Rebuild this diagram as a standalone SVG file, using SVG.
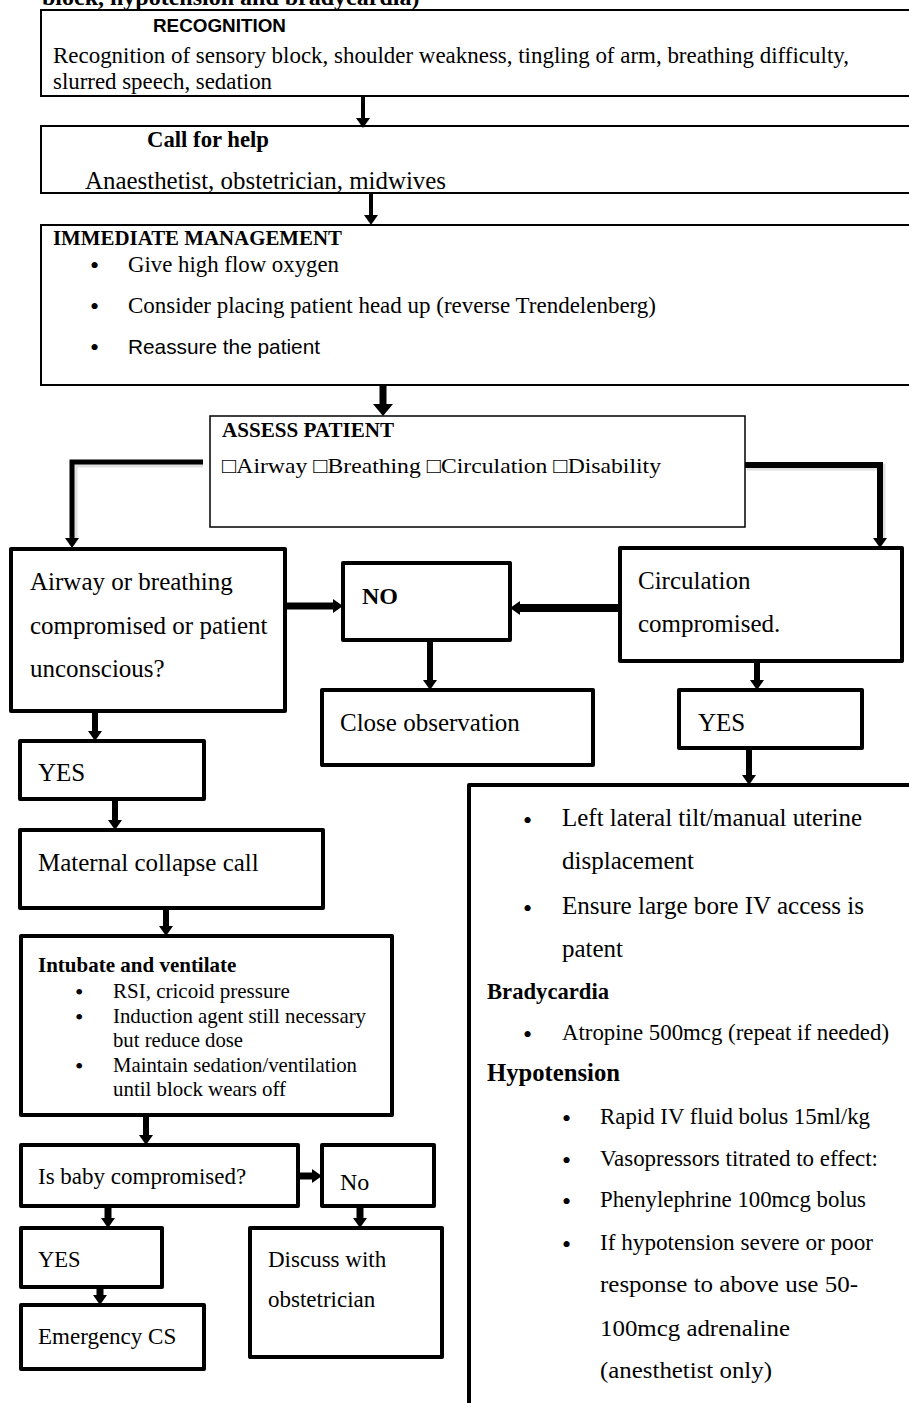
<svg xmlns="http://www.w3.org/2000/svg" width="909" height="1403" viewBox="0 0 909 1403">
<style>
.bg{fill:#fff}
.thin{fill:#fff;stroke:#000;stroke-width:2}
.thick{fill:#fff;stroke:#000;stroke-width:4;stroke-linejoin:round}
.t{font-family:"Liberation Serif","Times New Roman",serif;fill:#000}
.s{font-family:"Liberation Sans",Arial,sans-serif;fill:#000}
.b{font-weight:bold}
.c{fill:none;stroke:#000;stroke-linejoin:miter}
.sh{fill:none;stroke:#000;stroke-opacity:0.12;stroke-width:7}
</style>
<defs>
<marker id="ah" markerUnits="userSpaceOnUse" markerWidth="10" markerHeight="14" viewBox="0 0 10 14" refX="0" refY="7" orient="auto"><path d="M0,0 L10,7 L0,14 z" fill="#000"/></marker>
<marker id="ahL" markerUnits="userSpaceOnUse" markerWidth="12" markerHeight="20" viewBox="0 0 12 20" refX="0" refY="10" orient="auto"><path d="M0,0 L12,10 L0,20 z" fill="#000"/></marker>
</defs>
<rect class="bg" x="0" y="0" width="909" height="1403"/>
<text class="t b" x="42" y="5" font-size="24">block, hypotension and bradycardia)</text>

<g id="recognition">
<rect class="thin" x="41" y="10" width="900" height="86"/>
<text class="s b" x="153" y="32" font-size="18" textLength="133" lengthAdjust="spacingAndGlyphs">RECOGNITION</text>
<text class="t" x="53" y="63" font-size="23" textLength="796" lengthAdjust="spacingAndGlyphs">Recognition of sensory block, shoulder weakness, tingling of arm, breathing difficulty,</text>
<text class="t" x="53" y="89" font-size="23" textLength="219" lengthAdjust="spacingAndGlyphs">slurred speech, sedation</text>
</g>

<g id="call-for-help">
<rect class="thin" x="41" y="126" width="900" height="67"/>
<text class="t b" x="147" y="147" font-size="22.5" textLength="122" lengthAdjust="spacingAndGlyphs">Call for help</text>
<text class="t" x="85" y="189" font-size="25" textLength="361" lengthAdjust="spacingAndGlyphs">Anaesthetist, obstetrician, midwives</text>
</g>

<g id="immediate-management">
<rect class="thin" x="41" y="225" width="900" height="160"/>
<text class="t b" x="53" y="245" font-size="20.5" textLength="289" lengthAdjust="spacingAndGlyphs">IMMEDIATE MANAGEMENT</text>
<text class="t" x="90" y="274" font-size="26">•</text>
<text class="t" x="128" y="272" font-size="23" textLength="211" lengthAdjust="spacingAndGlyphs">Give high flow oxygen</text>
<text class="t" x="90" y="315" font-size="26">•</text>
<text class="t" x="128" y="313" font-size="23" textLength="528" lengthAdjust="spacingAndGlyphs">Consider placing patient head up (reverse Trendelenberg)</text>
<text class="t" x="90" y="356" font-size="26">•</text>
<text class="s" x="128" y="354" font-size="21" textLength="192" lengthAdjust="spacingAndGlyphs">Reassure the patient</text>
</g>

<g id="assess-patient">
<rect x="210" y="416" width="535" height="111" fill="#fff" stroke="#000" stroke-width="1.5"/>
<text class="t b" x="222" y="437" font-size="20.5" textLength="172" lengthAdjust="spacingAndGlyphs">ASSESS PATIENT</text>
<text class="t" x="222" y="473" font-size="22" textLength="439" lengthAdjust="spacingAndGlyphs">□Airway □Breathing □Circulation □Disability</text>
</g>

<g id="airway-compromised">
<rect class="thick" x="11" y="549" width="274" height="162"/>
<text class="t" x="30" y="590" font-size="25">Airway or breathing</text>
<text class="t" x="30" y="634" font-size="25">compromised or patient</text>
<text class="t" x="30" y="677" font-size="25">unconscious?</text>
</g>

<g id="no-1">
<rect class="thick" x="343" y="563" width="167" height="77"/>
<text class="t b" x="362" y="604" font-size="24">NO</text>
</g>

<g id="circulation-compromised">
<rect class="thick" x="620" y="548" width="282" height="113"/>
<text class="t" x="638" y="589" font-size="25">Circulation</text>
<text class="t" x="638" y="632" font-size="25">compromised.</text>
</g>

<g id="close-observation">
<rect class="thick" x="322" y="690" width="271" height="75"/>
<text class="t" x="340" y="731" font-size="25">Close observation</text>
</g>

<g id="yes-circulation">
<rect class="thick" x="679" y="690" width="183" height="58"/>
<text class="t" x="698" y="731" font-size="25">YES</text>
</g>

<g id="yes-airway">
<rect class="thick" x="20" y="741" width="184" height="58"/>
<text class="t" x="38" y="781" font-size="25">YES</text>
</g>

<g id="maternal-collapse">
<rect class="thick" x="20" y="830" width="303" height="78"/>
<text class="t" x="38" y="871" font-size="25">Maternal collapse call</text>
</g>

<g id="intubate">
<rect class="thick" x="21" y="936" width="371" height="179"/>
<text class="t b" x="38" y="972" font-size="21">Intubate and ventilate</text>
<text class="t" x="75" y="1000" font-size="24">•</text>
<text class="t" x="113" y="998" font-size="21">RSI, cricoid pressure</text>
<text class="t" x="75" y="1025" font-size="24">•</text>
<text class="t" x="113" y="1023" font-size="21" textLength="253" lengthAdjust="spacingAndGlyphs">Induction agent still necessary</text>
<text class="t" x="113" y="1047" font-size="21" textLength="130" lengthAdjust="spacingAndGlyphs">but reduce dose</text>
<text class="t" x="75" y="1074" font-size="24">•</text>
<text class="t" x="113" y="1072" font-size="21" textLength="244" lengthAdjust="spacingAndGlyphs">Maintain sedation/ventilation</text>
<text class="t" x="113" y="1096" font-size="21" textLength="173" lengthAdjust="spacingAndGlyphs">until block wears off</text>
</g>

<g id="baby-compromised">
<rect class="thick" x="21" y="1145" width="277" height="61"/>
<text class="t" x="38" y="1184" font-size="23">Is baby compromised?</text>
</g>

<g id="no-2">
<rect class="thick" x="322" y="1145" width="112" height="61"/>
<text class="t" x="340" y="1190" font-size="24">No</text>
</g>

<g id="discuss">
<rect class="thick" x="250" y="1228" width="192" height="129"/>
<text class="t" x="268" y="1267" font-size="23">Discuss with</text>
<text class="t" x="268" y="1307" font-size="23">obstetrician</text>
</g>

<g id="yes-baby">
<rect class="thick" x="21" y="1228" width="141" height="59"/>
<text class="t" x="38" y="1267" font-size="22.5">YES</text>
</g>

<g id="emergency-cs">
<rect class="thick" x="21" y="1305" width="183" height="64"/>
<text class="t" x="38" y="1344" font-size="23">Emergency CS</text>
</g>

<g id="circulation-management">
<rect class="thick" x="469" y="785" width="470" height="700"/>
<text class="t" x="523" y="829" font-size="26">•</text>
<text class="t" x="562" y="826" font-size="24.5" textLength="300" lengthAdjust="spacingAndGlyphs">Left lateral tilt/manual uterine</text>
<text class="t" x="562" y="869" font-size="24.5" textLength="132" lengthAdjust="spacingAndGlyphs">displacement</text>
<text class="t" x="523" y="917" font-size="26">•</text>
<text class="t" x="562" y="914" font-size="24.5" textLength="302" lengthAdjust="spacingAndGlyphs">Ensure large bore IV access is</text>
<text class="t" x="562" y="957" font-size="24.5" textLength="61" lengthAdjust="spacingAndGlyphs">patent</text>
<text class="t b" x="487" y="999" font-size="22.5" textLength="122" lengthAdjust="spacingAndGlyphs">Bradycardia</text>
<text class="t" x="523" y="1043" font-size="26">•</text>
<text class="t" x="562" y="1040" font-size="23.5" textLength="327" lengthAdjust="spacingAndGlyphs">Atropine 500mcg (repeat if needed)</text>
<text class="t b" x="487" y="1081" font-size="24.5" textLength="133" lengthAdjust="spacingAndGlyphs">Hypotension</text>
<text class="t" x="562" y="1127" font-size="26">•</text>
<text class="t" x="600" y="1124" font-size="23" textLength="270" lengthAdjust="spacingAndGlyphs">Rapid IV fluid bolus 15ml/kg</text>
<text class="t" x="562" y="1169" font-size="26">•</text>
<text class="t" x="600" y="1166" font-size="23" textLength="278" lengthAdjust="spacingAndGlyphs">Vasopressors titrated to effect:</text>
<text class="t" x="562" y="1210" font-size="26">•</text>
<text class="t" x="600" y="1207" font-size="23" textLength="266" lengthAdjust="spacingAndGlyphs">Phenylephrine 100mcg bolus</text>
<text class="t" x="562" y="1253" font-size="26">•</text>
<text class="t" x="600" y="1250" font-size="23" textLength="273" lengthAdjust="spacingAndGlyphs">If hypotension severe or poor</text>
<text class="t" x="600" y="1292" font-size="23" textLength="258" lengthAdjust="spacingAndGlyphs">response to above use 50-</text>
<text class="t" x="600" y="1336" font-size="23" textLength="190" lengthAdjust="spacingAndGlyphs">100mcg adrenaline</text>
<text class="t" x="600" y="1378" font-size="23" textLength="172" lengthAdjust="spacingAndGlyphs">(anesthetist only)</text>
</g>

<g id="connectors">
<polyline class="sh" points="203,464 74,464 74,538"/>
<polyline class="sh" points="747,467 882,467 882,538"/>
<line class="c" stroke-width="4" x1="363" y1="96" x2="363" y2="118" marker-end="url(#ah)"/>
<line class="c" stroke-width="4" x1="371" y1="193" x2="371" y2="215" marker-end="url(#ah)"/>
<line class="c" stroke-width="7" x1="383" y1="385" x2="383" y2="404" marker-end="url(#ahL)"/>
<polyline class="c" stroke-width="5" points="203,462 72,462 72,538" marker-end="url(#ah)"/>
<polyline class="c" stroke-width="6" points="745,465 880,465 880,538" marker-end="url(#ah)"/>
<line class="c" stroke-width="7" x1="287" y1="606" x2="333" y2="606" marker-end="url(#ah)"/>
<line class="c" stroke-width="8" x1="618" y1="608" x2="520" y2="608" marker-end="url(#ah)"/>
<line class="c" stroke-width="6" x1="430" y1="642" x2="430" y2="680" marker-end="url(#ah)"/>
<line class="c" stroke-width="6" x1="757" y1="663" x2="757" y2="680" marker-end="url(#ah)"/>
<line class="c" stroke-width="6" x1="749" y1="750" x2="749" y2="775" marker-end="url(#ah)"/>
<line class="c" stroke-width="6" x1="95" y1="713" x2="95" y2="731" marker-end="url(#ah)"/>
<line class="c" stroke-width="6" x1="115" y1="801" x2="115" y2="820" marker-end="url(#ah)"/>
<line class="c" stroke-width="6" x1="166" y1="910" x2="166" y2="926" marker-end="url(#ah)"/>
<line class="c" stroke-width="6" x1="146" y1="1117" x2="146" y2="1135" marker-end="url(#ah)"/>
<line class="c" stroke-width="7" x1="300" y1="1176" x2="312" y2="1176" marker-end="url(#ah)"/>
<line class="c" stroke-width="7" x1="360" y1="1208" x2="360" y2="1218" marker-end="url(#ah)"/>
<line class="c" stroke-width="7" x1="108" y1="1208" x2="108" y2="1218" marker-end="url(#ah)"/>
<line class="c" stroke-width="7" x1="100" y1="1289" x2="100" y2="1295" marker-end="url(#ah)"/>
</g>
</svg>
